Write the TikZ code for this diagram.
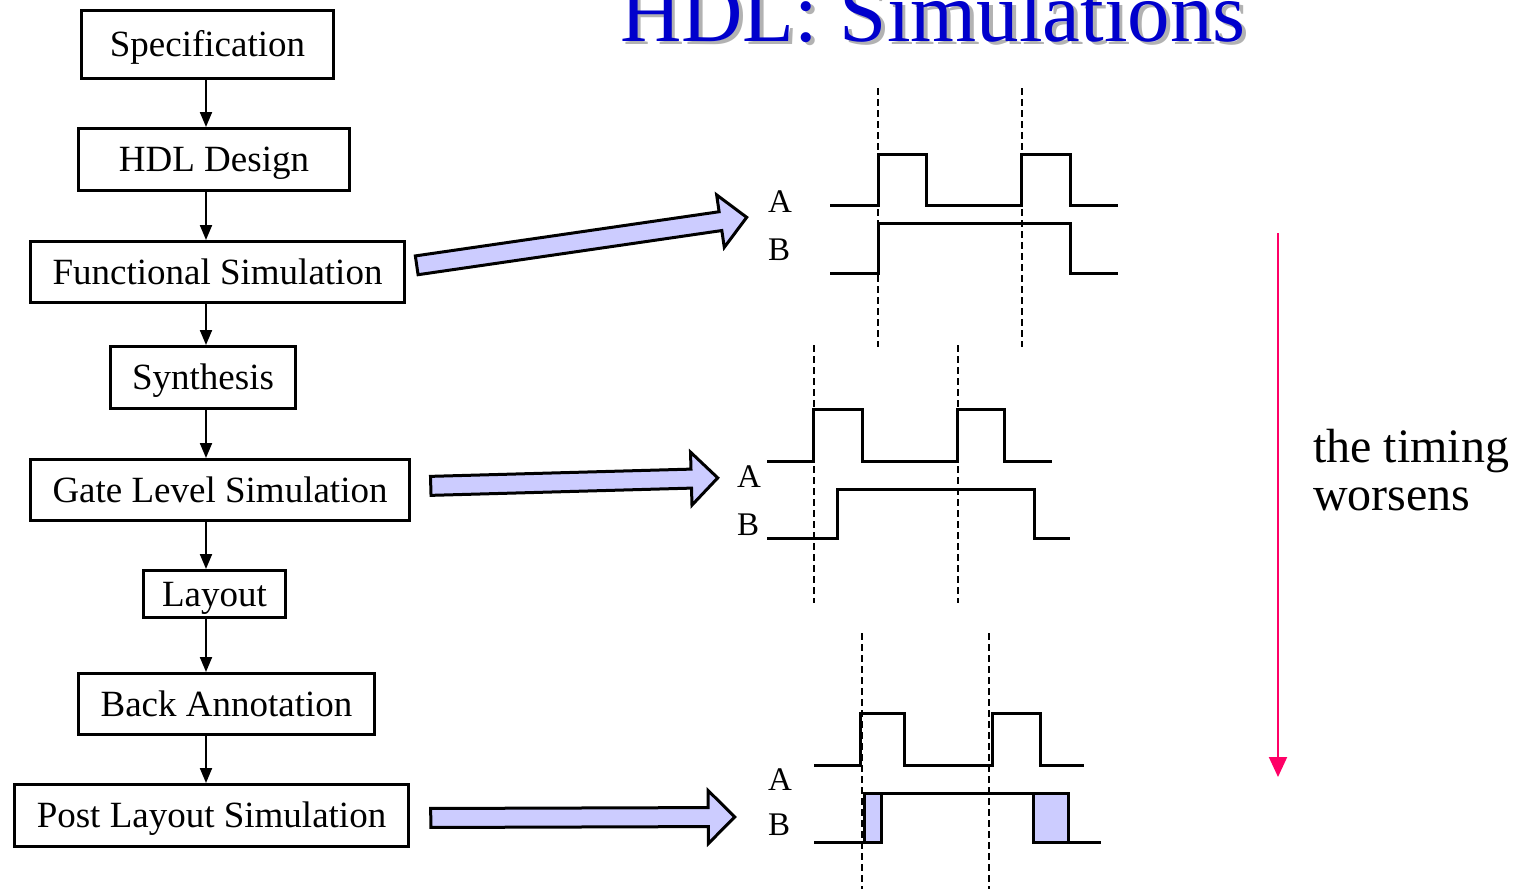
\documentclass[tikz,border=0pt]{standalone}
\usepackage{fontspec}
\setmainfont{Liberation Serif}
\usetikzlibrary{arrows.meta,shapes.arrows,calc}

\definecolor{titleblue}{RGB}{0,0,204}
\definecolor{shadowgray}{RGB}{178,178,178}
\definecolor{lavender}{RGB}{204,204,255}
\definecolor{timingpink}{RGB}{255,0,102}

\begin{document}
\begin{tikzpicture}[x=1pt,y=-1pt,
  stagebox/.style={draw, line width=3pt, inner sep=0pt, text height=24pt, text depth=0pt,
    font=\fontsize{37}{40}\selectfont},
  flow/.style={line width=2pt, -{Triangle[length=15pt,width=12pt]}},
  wave/.style={line width=3pt, line join=miter},
  guide/.style={line width=1.3pt, dash pattern=on 7pt off 4pt},
  siglabel/.style={font=\fontsize{33}{33}\selectfont, inner sep=0pt, anchor=base west},
  blockarrow/.style={single arrow, draw, line width=3pt, fill=lavender, inner sep=8pt,
    minimum width=50pt, single arrow head extend=17pt, single arrow tip angle=90, line join=miter},
  titletext/.style={anchor=base west, inner sep=0pt, font=\fontsize{85}{85}\selectfont}
]
\useasboundingbox (0,0) rectangle (1515,889);
\clip (0,0) rectangle (1515,889);

% title with drop shadow
\node[titletext, text=shadowgray] (titleshadow) at (623.5,44.5) {HDL: Simulations};
\node[titletext, text=titleblue] (title) at (620,41) {HDL: Simulations};

% design flow
\node[stagebox, minimum width=252pt, minimum height=68pt] (spec)   at (207.5,44.5) {Specification};
\node[stagebox, minimum width=271pt, minimum height=62pt] (hdl)    at (214,159.5)  {HDL Design};
\node[stagebox, minimum width=374pt, minimum height=61pt] (func)   at (217.5,272)  {Functional Simulation};
\node[stagebox, minimum width=185pt, minimum height=62pt] (synth)  at (203,377.5)  {Synthesis};
\node[stagebox, minimum width=379pt, minimum height=61pt] (gate)   at (220,490)    {Gate Level Simulation};
\node[stagebox, minimum width=142pt, minimum height=47pt] (layout) at (214.5,594)  {Layout};
\node[stagebox, minimum width=296pt, minimum height=61pt] (back)   at (226.5,704)  {Back Annotation};
\node[stagebox, minimum width=394pt, minimum height=62pt] (post)   at (211.5,815.5) {Post Layout Simulation};

\coordinate (spine) at (206,0);
\foreach \a/\b in {spec/hdl, hdl/func, func/synth, synth/gate, gate/layout, layout/back, back/post}
  \draw[flow] (\a.south -| spine) -- (\b.north -| spine);

% block arrows from the simulation stages to their waveforms
\coordinate (fsTail) at (412,266);     \coordinate (fsTip) at (742,218);
\coordinate (glTail) at (426,486);     \coordinate (glTip) at (713,478);
\coordinate (plTail) at (426,818);     \coordinate (plTip) at (730,817);
\foreach \s/\t in {fsTail/fsTip, glTail/glTip, plTail/plTip}
  \path let \p1=($(\t)-(\s)$), \n1={atan2(\y1,\x1)}, \n2={veclen(\x1,\y1)} in
    node[blockarrow, rotate=\n1, minimum height=\n2] at ($(\s)!0.5!(\t)$) {};

% functional simulation waveform
\draw[guide] (878,88) -- (878,347);
\draw[guide] (1022,88) -- (1022,347);
\draw[wave] (830,205) -- (878,205) -- (878,154) -- (926,154) -- (926,205) -- (1021,205)
  -- (1021,154) -- (1070,154) -- (1070,205) -- (1118,205);
\draw[wave] (830,273) -- (878,273) -- (878,223) -- (1070,223) -- (1070,273) -- (1118,273);
\node[siglabel] (fsA) at (768,212) {A};
\node[siglabel] (fsB) at (768,260) {B};

% gate level waveform
\draw[guide] (814,345) -- (814,603);
\draw[guide] (958,345) -- (958,603);
\draw[wave] (767,461) -- (813,461) -- (813,409) -- (862,409) -- (862,461) -- (957,461)
  -- (957,409) -- (1004,409) -- (1004,461) -- (1052,461);
\draw[wave] (767,538) -- (837,538) -- (837,489) -- (1034,489) -- (1034,538) -- (1070,538);
\node[siglabel] (glA) at (737,487) {A};
\node[siglabel] (glB) at (737,535) {B};

% post layout waveform
\draw[guide] (862,633) -- (862,889);
\draw[guide] (989,633) -- (989,889);
\draw[wave] (814,765) -- (860,765) -- (860,713) -- (904,713) -- (904,765) -- (992,765)
  -- (992,713) -- (1040,713) -- (1040,765) -- (1084,765);
\filldraw[wave, fill=lavender] (864,793) rectangle (881,842);
\filldraw[wave, fill=lavender] (1033,793) rectangle (1068,842);
\draw[wave] (814,842) -- (864,842) -- (864,793) -- (1068,793) -- (1068,842) -- (1101,842);
\node[siglabel] (plA) at (768,790) {A};
\node[siglabel] (plB) at (768,835) {B};

% timing trend
\coordinate (trendTop) at (1278,233);
\coordinate (trendEnd) at (1278,777);
\draw[line width=2pt, timingpink, -{Triangle[length=20pt,width=18pt]}] (trendTop) -- (trendEnd);
\node[anchor=north west, inner sep=0pt, align=left, font=\fontsize{48}{48}\selectfont]
  (note) at (1313,429) {the timing\\worsens};
\end{tikzpicture}
\end{document}
